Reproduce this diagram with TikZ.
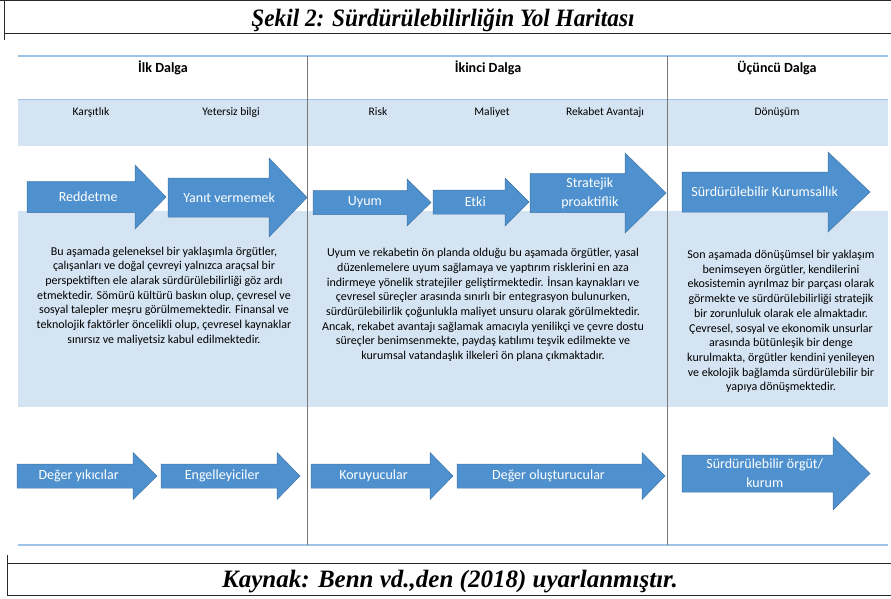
\documentclass[tikz,border=0pt]{standalone}
\usepackage{fontspec}
\setmainfont{Liberation Serif}
\setsansfont{Carlito}
\usepackage{graphicx}
\usetikzlibrary{positioning}
\definecolor{bandcol}{RGB}{213, 228, 242}
\definecolor{rulecol}{RGB}{157, 195, 230}
\definecolor{arrowcol}{RGB}{79, 145, 206}
\definecolor{arrowedge}{RGB}{65, 118, 168}
\definecolor{sepcol}{RGB}{120, 120, 120}
\definecolor{framecol}{RGB}{40, 40, 40}
\tikzset{
  band/.style     = {fill=bandcol, draw=none},
  rule/.style     = {draw=rulecol, line width=2pt},
  sepline/.style  = {draw=sepcol, line width=1.6pt},
  frame/.style    = {draw=framecol, line width=0.9pt},
  wave/.style     = {font=\sffamily\bfseries\fontsize{14}{16}\selectfont,
                     inner sep=0pt, anchor=base},
  stage/.style    = {font=\sffamily\fontsize{11.5}{13}\selectfont,
                     inner sep=0pt, anchor=base},
  para/.style     = {font=\sffamily\fontsize{12}{14.7}\selectfont,
                     align=center, inner sep=0pt},
  arrowbody/.style = {fill=arrowcol, draw=arrowedge, line width=0.5pt},
  arrowtxt/.style = {font=\sffamily\fontsize{14}{19}\selectfont, text=white,
                     align=center, inner sep=0pt},
  heading/.style  = {font=\rmfamily\bfseries\itshape\fontsize{25}{28}\selectfont,
                     inner sep=0pt, anchor=base},
}
% block arrow: name, x start, x head, x tip, y mid, body half, head half, text
\newcommand{\blockarrow}[8]{%
  \draw[arrowbody] (#2,#5-#6) -- (#3,#5-#6) -- (#3,#5-#7) -- (#4,#5)
    -- (#3,#5+#7) -- (#3,#5+#6) -- (#2,#5+#6) -- cycle;
  \node[arrowtxt] (#1) at ({#2+0.44*(#4-#2)},#5) {#8};}

\begin{document}
\begin{tikzpicture}[x=1pt, y=-1pt]
  \path[use as bounding box] (0,0) rectangle (891,599);

  %% ---------------- title and source boxes ----------------
  \draw[frame] (0,0.5) -- (891,0.5);
  \draw[frame] (4.5,0) -- (4.5,40);
  \draw[frame] (4.5,33.5) -- (891,33.5);
  \node[heading] (title) at (443,27)
       {\scalebox{0.93}[1]{Şekil 2: Sürdürülebilirliğin Yol Haritası}};

  \draw[frame] (7.5,555) -- (7.5,595.5) -- (891,595.5);
  \draw[frame] (7.5,563.5) -- (891,563.5);
  \node[heading] (source) at (450,587)
       {Kaynak: Benn vd.,den (2018) uyarlanmıştır.};

  %% ---------------- bands and rules ----------------
  \fill[band] (18,99) rectangle (888,146);
  \draw[draw=rulecol, line width=0.8pt] (18,99) -- (888,99);
  \fill[band] (18,211) rectangle (888,407);
  \draw[rule] (18,56) -- (888,56);
  \draw[rule] (18,545) -- (888,545);
  \draw[sepline] (307.5,56) -- (307.5,545);
  \draw[sepline] (667.5,56) -- (667.5,545);

  %% ---------------- waves ----------------
  \node[wave] (first)  at (163,72.5) {İlk Dalga};
  \node[wave] (second) at (488,72.5) {İkinci Dalga};
  \node[wave] (third)  at (777,72.5) {Üçüncü Dalga};

  \node[stage] (karsit)   at (91,115.5)  {Karşıtlık};
  \node[stage] (yetersiz) at (231,115.5) {Yetersiz bilgi};
  \node[stage] (risk)     at (378,115.5) {Risk};
  \node[stage] (maliyet)  at (492,115.5) {Maliyet};
  \node[stage] (rekabet)  at (605,115.5) {Rekabet Avantajı};
  \node[stage] (donusum)  at (777,115.5) {Dönüşüm};

  %% ---------------- responses ----------------
  \blockarrow{reddet}{27}{135}{166}{197}{15.5}{32}{Reddetme}
  \blockarrow{yanit}{168}{269}{307}{197.5}{19.5}{39.5}{Yanıt vermemek}
  \blockarrow{uyum}{313}{407}{431}{202.5}{12}{23.5}{Uyum}
  \blockarrow{etki}{433}{505}{529}{202}{12}{24}{Etki}
  \blockarrow{proakt}{530}{625}{666}{193}{19.5}{40}{Stratejik\\proaktiflik}
  \blockarrow{kurum}{682}{828}{870}{192}{20}{40}{Sürdürülebilir Kurumsallık}

  %% ---------------- descriptions ----------------
  \node[para] (descfirst) at (164,296)
       {Bu aşamada geleneksel bir yaklaşımla örgütler,\\
        çalışanları ve doğal çevreyi yalnızca araçsal bir\\
        perspektiften ele alarak sürdürülebilirliği göz ardı\\
        etmektedir. Sömürü kültürü baskın olup, çevresel ve\\
        sosyal talepler meşru görülmemektedir. Finansal ve\\
        teknolojik faktörler öncelikli olup, çevresel kaynaklar\\
        sınırsız ve maliyetsiz kabul edilmektedir.};
  \node[para] (descsecond) at (483,305)
       {Uyum ve rekabetin ön planda olduğu bu aşamada örgütler, yasal\\
        düzenlemelere uyum sağlamaya ve yaptırım risklerini en aza\\
        indirmeye yönelik stratejiler geliştirmektedir. İnsan kaynakları ve\\
        çevresel süreçler arasında sınırlı bir entegrasyon bulunurken,\\
        sürdürülebilirlik çoğunlukla maliyet unsuru olarak görülmektedir.\\
        Ancak, rekabet avantajı sağlamak amacıyla yenilikçi ve çevre dostu\\
        süreçler benimsenmekte, paydaş katılımı teşvik edilmekte ve\\
        kurumsal vatandaşlık ilkeleri ön plana çıkmaktadır.};
  \node[para] (descthird) at (781,321.5)
       {Son aşamada dönüşümsel bir yaklaşım\\
        benimseyen örgütler, kendilerini\\
        ekosistemin ayrılmaz bir parçası olarak\\
        görmekte ve sürdürülebilirliği stratejik\\
        bir zorunluluk olarak ele almaktadır.\\
        Çevresel, sosyal ve ekonomik unsurlar\\
        arasında bütünleşik bir denge\\
        kurulmakta, örgütler kendini yenileyen\\
        ve ekolojik bağlamda sürdürülebilir bir\\
        yapıya dönüşmektedir.};

  %% ---------------- actor types ----------------
  \blockarrow{yikici}{17}{133}{157}{476}{12}{23.5}{Değer yıkıcılar}
  \blockarrow{engel}{161}{277}{300}{476}{12}{23.5}{Engelleyiciler}
  \blockarrow{koruyucu}{311}{430}{453}{476}{12}{23.5}{Koruyucular}
  \blockarrow{olustur}{457}{642}{665}{476}{12}{23.5}{Değer oluşturucular}
  \blockarrow{orgut}{682}{833}{870}{473.5}{18.5}{36.5}{Sürdürülebilir örgüt/\\kurum}

\end{tikzpicture}
\end{document}
